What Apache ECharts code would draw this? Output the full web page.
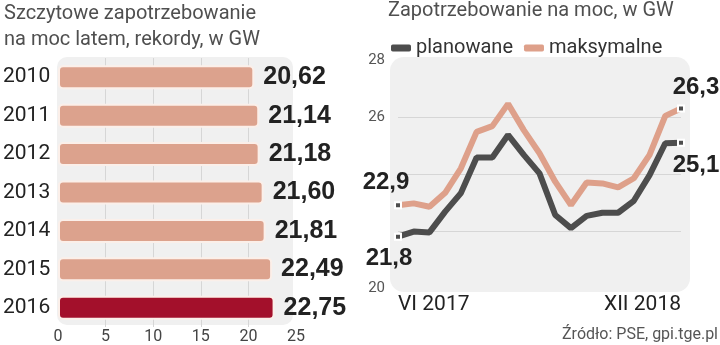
<!DOCTYPE html>
<html><head><meta charset="utf-8">
<script src="https://cdn.jsdelivr.net/npm/echarts@6/dist/echarts.min.js"></script>
<style>html,body{margin:0;background:#fff}#c{width:720px;height:345px}</style>
</head><body><div id="c"></div>
<script>
// Summer peak demand records, GW
const years = ['2010', '2011', '2012', '2013', '2014', '2015', '2016'];
const peakDemand = [20.62, 21.14, 21.18, 21.60, 21.81, 22.49, 22.75];

// Monthly power demand, GW
const months = ['VI 2017', 'VII 2017', 'VIII 2017', 'IX 2017', 'X 2017', 'XI 2017', 'XII 2017',
  'I 2018', 'II 2018', 'III 2018', 'IV 2018', 'V 2018', 'VI 2018', 'VII 2018', 'VIII 2018',
  'IX 2018', 'X 2018', 'XI 2018', 'XII 2018'];
const planned = [21.8, 21.98, 21.95, 22.68, 23.33, 24.58, 24.58, 25.37, 24.67, 24.02, 22.56,
  22.1, 22.53, 22.64, 22.64, 23.06, 23.96, 25.08, 25.1];
const maximum = [22.9, 22.97, 22.85, 23.34, 24.2, 25.48, 25.68, 26.46, 25.54, 24.73, 23.73,
  22.91, 23.7, 23.67, 23.53, 23.85, 24.67, 26.04, 26.3];
const lineTicksShown = [20, 26, 28];

const SANS = 'Roboto, "Noto Sans", sans-serif';
const BOLD = '"Liberation Sans", Arial, sans-serif';
const DARK = '#4d4d4d', SALMON = '#dea08a';

const comma = (v, d) => v.toFixed(d).replace('.', ',');

const barData = peakDemand.map((v, i) => ({
  value: v,
  itemStyle: { color: i === peakDemand.length - 1 ? '#a3102b' : '#dca28d' }
}));

// Value callouts at both ends of a line
function endLabel(pos, offset, dist) {
  return { show: true, position: pos, offset: offset, distance: dist,
    fontFamily: BOLD, fontWeight: 'bold', fontSize: 24, color: '#222',
    formatter: p => comma(p.value, 1) };
}
const endMarker = { color: DARK, borderColor: '#ffffff', borderWidth: 2, opacity: 1 };
function lineData(arr, firstLabel, lastLabel) {
  return arr.map((v, i) => {
    if (i === 0) return { value: v, symbol: 'rect', symbolSize: 6, itemStyle: endMarker, label: firstLabel };
    if (i === arr.length - 1) return { value: v, symbol: 'rect', symbolSize: 6, itemStyle: endMarker, label: lastLabel };
    return { value: v };
  });
}

const chart = echarts.init(document.getElementById('c'), null, { renderer: 'canvas' });
chart.setOption({
  animation: false,
  backgroundColor: '#fff',
  graphic: [
    { type: 'rect', z: -10, shape: { x: 57, y: 57, width: 236, height: 268, r: 10 }, style: { fill: '#f0f0f0' } },
    { type: 'rect', z: -10, shape: { x: 390, y: 57, width: 300, height: 235, r: 14 }, style: { fill: '#f0f0f0' } },
    { type: 'text', left: 4, top: 1, style: { text: 'Szczytowe zapotrzebowanie\nna moc latem, rekordy, w GW',
      font: '20px ' + SANS, fill: '#4f4f4f', lineHeight: 26 } },
    { type: 'text', left: 388, top: 1, style: { text: 'Zapotrzebowanie na moc, w GW',
      font: '20px ' + SANS, fill: '#4f4f4f' } },
    { type: 'text', right: 2, top: 327, style: { text: 'Źródło: PSE, gpi.tge.pl',
      font: '16px ' + SANS, fill: '#555' } }
  ],
  legend: {
    left: 386, top: 33, itemGap: 11, itemWidth: 20, itemHeight: 7,
    icon: 'roundRect',
    textStyle: { fontFamily: SANS, fontSize: 20, color: '#333' },
    data: ['planowane', 'maksymalne']
  },
  grid: [
    { left: 57, top: 58, width: 239, height: 270 },
    { left: 398, top: 60, width: 283, height: 228 }
  ],
  xAxis: [
    { gridIndex: 0, type: 'value', min: 0, max: 25, interval: 5,
      axisLine: { show: false }, axisTick: { show: false },
      axisLabel: { margin: 2, fontFamily: SANS, fontSize: 16, color: '#444' },
      splitLine: { lineStyle: { color: ['transparent', '#d6d6d6', '#d6d6d6', '#d6d6d6', '#d6d6d6', 'transparent'] } } },
    { gridIndex: 1, type: 'category', data: months, boundaryGap: false,
      axisLine: { show: false }, axisTick: { show: false }, splitLine: { show: false },
      axisLabel: { margin: 6, fontFamily: SANS, fontSize: 21, color: '#222',
        interval: i => i === 0 || i === months.length - 1,
        alignMinLabel: 'left', alignMaxLabel: 'right' } }
  ],
  yAxis: [
    { gridIndex: 0, type: 'category', data: years, inverse: true,
      axisLine: { show: false }, axisTick: { show: false },
      axisLabel: { align: 'left', margin: 55, fontFamily: SANS, fontSize: 21, color: '#222' } },
    { gridIndex: 1, type: 'value', min: 20, max: 28, interval: 2,
      axisLine: { show: false }, axisTick: { show: false },
      axisLabel: { margin: 13, fontFamily: SANS, fontSize: 15, color: '#555',
        formatter: v => lineTicksShown.includes(v) ? String(v) : '' },
      splitLine: { lineStyle: { color: ['transparent', '#d6d6d6', '#d6d6d6', '#d6d6d6', 'transparent'] } } }
  ],
  series: [
    { type: 'bar', xAxisIndex: 0, yAxisIndex: 0, data: barData, barWidth: 24,
      itemStyle: { borderColor: '#fbefe9', borderWidth: 2, borderRadius: 4 },
      label: { show: true, position: 'right', distance: 9, fontFamily: BOLD, fontWeight: 'bold',
        fontSize: 25, color: '#222', formatter: p => comma(p.value, 2) } },
    { name: 'planowane', type: 'line', xAxisIndex: 1, yAxisIndex: 1, clip: false, z: 3,
      data: lineData(planned, endLabel('bottom', [-9, 0], 6), endLabel('bottom', [15, 0], 7)),
      symbol: 'none', showSymbol: true, color: DARK,
      lineStyle: { width: 6, color: DARK },
      itemStyle: { color: DARK } },
    { name: 'maksymalne', type: 'line', xAxisIndex: 1, yAxisIndex: 1, clip: false, z: 2,
      data: lineData(maximum, endLabel('top', [-12, 0], 7), endLabel('top', [15, 0], 5)),
      symbol: 'none', showSymbol: true, color: SALMON,
      lineStyle: { width: 6, color: SALMON },
      itemStyle: { color: SALMON } }
  ]
});
</script></body></html>
